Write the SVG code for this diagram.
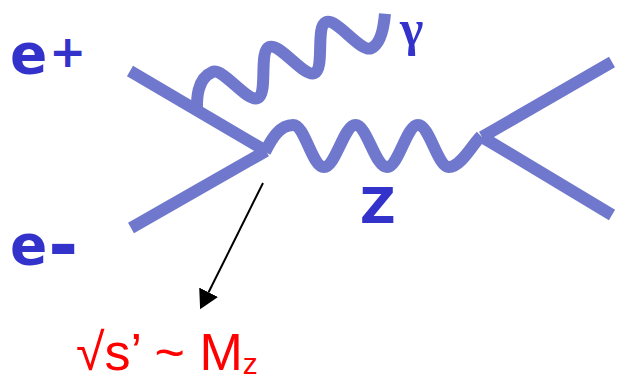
<svg xmlns="http://www.w3.org/2000/svg" width="618" height="382" viewBox="0 0 618 382">
<style>
.fermion{fill:none;stroke:#6f78cc;stroke-width:12;stroke-linecap:butt;stroke-linejoin:round}
.boson{fill:none;stroke:#6f78cc;stroke-width:12;stroke-linecap:butt}
.lbl{fill:#3333cc;font-family:"DejaVu Sans",sans-serif;font-weight:bold}
.gam{fill:#3333cc;font-family:"Liberation Serif",serif;font-weight:bold}
.red{fill:#ff0000;font-family:"Liberation Sans",Arial,sans-serif}
.ptr{stroke:#000;stroke-width:2;fill:none}
</style>
<defs>
<marker id="ah" markerUnits="userSpaceOnUse" markerWidth="20" markerHeight="22" refX="0" refY="10.5" orient="auto">
<path d="M0,0 L19,10.5 L0,21 z" fill="#000"/>
</marker>
</defs>
<g id="connectors">
<line class="fermion" x1="130" y1="71" x2="266" y2="151"/>
<line class="fermion" x1="131" y1="228" x2="266" y2="151"/>
<line class="fermion" x1="482" y1="137" x2="612" y2="62"/>
<line class="fermion" x1="482" y1="137" x2="612" y2="215"/>
<path id="photon" class="boson" transform="translate(235,85) rotate(-23.7)" d="M-45.7,9.4 C-42,1 -34,-21 -15.5,-21 C-4,-21 4,21 15.5,21 C27,21 35,-21 46.5,-21 C58,-21 66,21 77.5,21 C89,21 97,-21 108.5,-21 C120,-21 128,21 139.5,21 C150,21 160,6 166,-5"/>
<path id="zboson" class="boson" d="M265,152 C272,138 280,125 293,125 C305,125 312,167 324,167 C335.5,167 344,125 355.5,125 C367,125 375,167 387,167 C398.5,167 406.5,125 418,125 C429.5,125 437.5,167 449,167 C461,167 472,145 481,136"/>
<line class="ptr" x1="263" y1="183" x2="208.6" y2="292.3" marker-end="url(#ah)"/>
</g>
<g id="label-eplus"><text class="lbl" x="10" y="73" font-size="55">e<tspan font-size="44" dx="2" dy="-6">+</tspan></text></g>
<g id="label-eminus"><text class="lbl" x="10" y="264" font-size="55">e<tspan font-size="72" dx="1" dy="5">-</tspan></text></g>
<g id="label-gamma"><text class="gam" x="400" y="45" font-size="50">γ</text></g>
<g id="label-z"><text class="lbl" x="360" y="223" font-size="49">Z</text></g>
<g id="label-sqrts"><text class="red" x="76" y="370" font-size="52">√s’ ~ M<tspan font-size="30" dy="4">z</tspan></text></g>
</svg>
